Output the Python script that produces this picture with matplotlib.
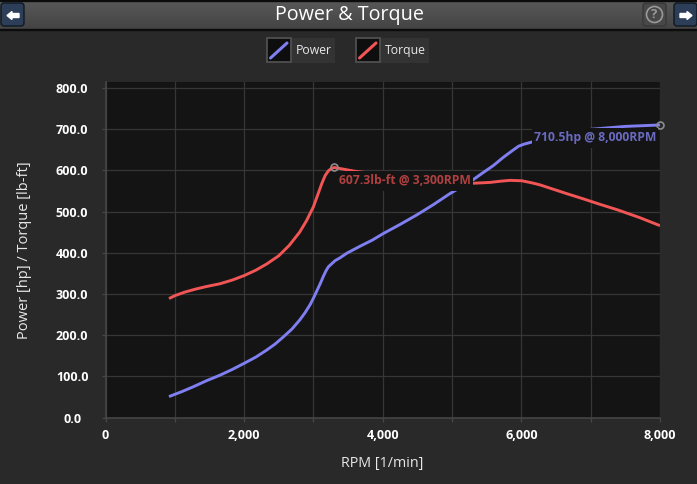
import matplotlib
matplotlib.use("Agg")
import matplotlib.pyplot as plt
from matplotlib.patches import Rectangle, FancyBboxPatch, Polygon, Circle
from matplotlib.colors import LinearSegmentedColormap
from matplotlib.ticker import FuncFormatter, MultipleLocator
import numpy as np

W, H = 697, 484
plt.rcParams['font.family'] = ['Open Sans', 'Noto Sans', 'DejaVu Sans']

power_rpm = [916, 1100, 1268, 1450, 1652, 1830, 2003, 2170, 2326, 2450, 2566, 2690, 2807, 2880, 2951, 3000, 3047, 3100, 3143, 3180, 3215, 3312, 3384, 3480, 3672, 3850, 4009, 4250, 4490, 4730, 4971, 5140, 5307, 5450, 5596, 5740, 5885, 5960, 6040, 6150, 6300, 6600, 7000, 7500, 8000]
power_val = [51, 63, 75, 89, 103, 117, 132, 147, 164, 179, 196, 215, 238, 255, 274, 290, 307, 326, 343, 356, 366, 381, 388, 399, 416, 431, 447, 469, 492, 517, 544, 561, 578, 595, 612, 632, 650, 659, 664, 669, 677, 688, 700, 707, 710.5]
torque_rpm = [916, 1000, 1150, 1300, 1450, 1652, 1830, 2003, 2170, 2326, 2500, 2650, 2800, 2900, 3000, 3060, 3120, 3170, 3215, 3260, 3300, 3600, 4000, 4500, 5000, 5307, 5548, 5700, 5837, 6006, 6150, 6270, 6414, 6650, 6895, 7130, 7377, 7700, 8000]
torque_val = [289, 296, 305, 312, 318, 325, 334, 345, 358, 373, 393, 418, 450, 478, 512, 540, 568, 588, 599, 605, 607.3, 598, 590, 582, 572, 569, 571, 574, 576, 575, 570, 565, 557, 544, 531, 518, 505, 486, 466]
x_ticks = [0, 2000, 4000, 6000, 8000]
y_ticks = [0, 100, 200, 300, 400, 500, 600, 700, 800]
title = "Power & Torque"
x_label = "RPM [1/min]"
y_label = "Power [hp] / Torque [lb-ft]"
series_names = ["Power", "Torque"]
power_note = "710.5hp @ 8,000RPM"
torque_note = "607.3lb-ft @ 3,300RPM"

BG = '#292929'; PLOT = '#141414'; GRID = '#363636'; BLUE = '#7f7ff2'; RED = '#f25555'

fig = plt.figure(figsize=(W/100, H/100), dpi=100, facecolor=BG)
ax = fig.add_axes([105.5/W, 1-417.6/H, (660-105.5)/W, (417.6-82)/H], facecolor=PLOT)
ax.set_xlim(0, 8000)
ax.set_ylim(0, 335.6/(329.5/800))
ax.plot(power_rpm, power_val, color=BLUE, lw=2.1, zorder=3, solid_capstyle='butt', solid_joinstyle='round')
ax.plot(torque_rpm, torque_val, color=RED, lw=2.1, zorder=3, solid_capstyle='butt', solid_joinstyle='round')
ax.xaxis.set_minor_locator(MultipleLocator(1000))
ax.set_yticks(y_ticks)
ax.set_xticks(x_ticks)
ax.xaxis.set_major_formatter(FuncFormatter(lambda v, p: f"{int(v):,}"))
ax.yaxis.set_major_formatter(FuncFormatter(lambda v, p: f"{v:.1f}"))
ax.grid(True, which='both', color=GRID, lw=0.9, zorder=1)
ax.set_axisbelow(True)
ax.tick_params(axis='both', which='both', color='#484848', length=3, width=0.9)
ax.tick_params(axis='x', which='major', labelcolor='white', labelsize=9, pad=5.5)
ax.tick_params(axis='y', which='major', labelcolor='white', labelsize=9, pad=21)
for l in ax.get_xticklabels() + ax.get_yticklabels():
    l.set_fontweight('bold')
for l in ax.get_yticklabels():
    l.set_ha('center')
for s in ['top', 'right']:
    ax.spines[s].set_visible(False)
for s in ['left', 'bottom']:
    ax.spines[s].set_color('#484848'); ax.spines[s].set_linewidth(1.1)

ax.plot([3300, 8000], [607.3, 710.5], ls='none', marker='o', ms=5, mfc='none', mec='#8c8c8c', mew=1.2, zorder=5, clip_on=False)

ui = fig.add_axes([0, 0, 1, 1], facecolor='none')
ui.axis('off')
grad = np.linspace(0, 1, 28)[:, None]
cm = LinearSegmentedColormap.from_list('h', ['#585858', '#444444'])
ui.imshow(grad, extent=(0, W, 29, 1), cmap=cm, aspect='auto', zorder=1)
ui.set_xlim(0, W); ui.set_ylim(H, 0)
ui.add_patch(Rectangle((0, 29), W, 1.2, color='#0c0c0c', zorder=2))
ui.add_patch(Rectangle((0, 0), W, 1, color='#0c0c0c', zorder=2))
ui.text(349.5, 15, title, color='white', fontsize=14.2, ha='center', va='center', zorder=3)

ui.text(341, 463, x_label, color='#e8e8e8', fontsize=10.3, va='center', zorder=3)
ui.text(24.5, 250, y_label, color='#e8e8e8', fontsize=10.5, rotation=90, ha='center', va='center', zorder=3)

def button(x, y, w, h, fc, ec):
    ui.add_patch(FancyBboxPatch((x+2, y+2), w-4, h-4, boxstyle='round,pad=2,rounding_size=3', fc=fc, ec=ec, lw=1, zorder=3))
button(1, 3, 23, 23, '#2c3e58', '#101820')
button(674, 3, 23, 23, '#2c3e58', '#101820')
button(643, 3, 23, 23, '#484848', '#383838')
ui.add_patch(Polygon([(7,15.5),(12,11.5),(12,13.5),(19,13.5),(19,17.5),(12,17.5),(12,19.5)], color='white', zorder=4))
ui.add_patch(Polygon([(692,15.5),(687,11.5),(687,13.5),(680,13.5),(680,17.5),(687,17.5),(687,19.5)], color='white', zorder=4))
ui.add_patch(Circle((654.5, 14.5), 8, fc='none', ec='#999999', lw=1.2, zorder=4))
ui.text(654.5, 14.5, '?', color='#999999', fontsize=9.5, fontweight='bold', ha='center', va='center', zorder=4)

for x0, c, name, x1 in [(266, BLUE, series_names[0], 335), (355, RED, series_names[1], 429)]:
    ui.add_patch(Rectangle((x0+0.5, 38.2), 24, 24, fc='#0e0e0e', ec='#505050', lw=1.3, zorder=3))
    ui.plot([x0+4.5, x0+21], [58, 43], color=c, lw=2.2, zorder=4, solid_capstyle='round')
    ui.add_patch(Rectangle((x0+26, 38), x1-x0-26, 25, fc='#333333', ec='none', zorder=3))
    ui.text(x0+30, 50.5, name, color='#e8e8e8', fontsize=8.8, va='center', zorder=4)

ui.add_patch(Rectangle((531.7, 128.3), 126.5, 19.5, fc=PLOT, ec='none', zorder=3))
ui.text(533.5, 138, power_note, color='#6a6ac0', fontsize=8.7, fontweight='bold', va='center', zorder=4)
ui.add_patch(Rectangle((337, 171), 136, 20, fc=PLOT, ec='none', zorder=3))
ui.text(339, 180.3, torque_note, color='#b04040', fontsize=8.7, fontweight='bold', va='center', zorder=4)

fig.savefig('out.png', dpi=100, facecolor=BG)
